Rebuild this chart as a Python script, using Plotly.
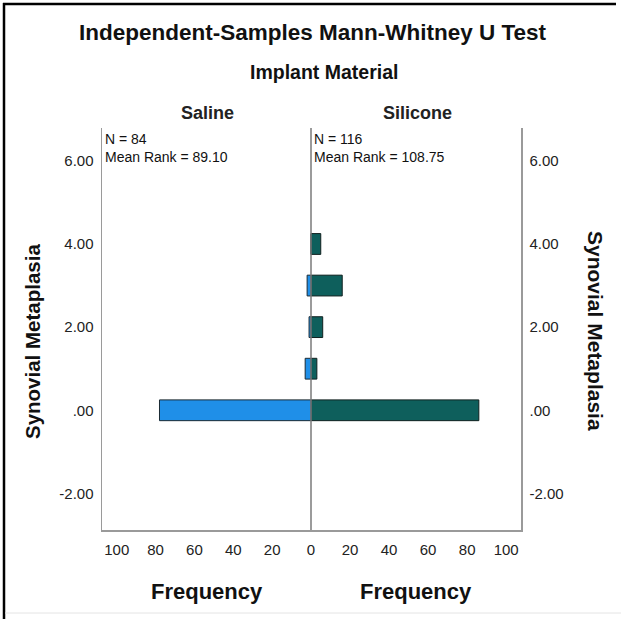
import plotly.graph_objects as go

# ---- data ----
levels = [0, 1, 2, 3, 4]
saline_freq = [78, 3, 1, 2, 0]
silicone_freq = [86, 3, 6, 16, 5]
group_names = ["Saline", "Silicone"]
group_n = [84, 116]
group_mean_rank = ["89.10", "108.75"]
y_tickvals = [-2, 0, 2, 4, 6]
y_ticktext = ["-2.00", ".00", "2.00", "4.00", "6.00"]
x_ticks_left = [0, 20, 40, 60, 80, 100]
x_ticks_right = [20, 40, 60, 80, 100]
title_lines = ["Independent-Samples Mann-Whitney U Test", "Implant Material"]
y_title = "Synovial Metaplasia"
x_title = "Frequency"

W, H = 621, 619
FONT = "Liberation Sans, Arial, sans-serif"


def fx(px):
    return px / W


def fy(py):
    return 1 - py / H


X_LEFT, X_MID, X_RIGHT = 102, 311, 521
Y_TOP, Y_BOT = 128, 530
AX_GRAY = "#9a9a9a"

fig = go.Figure()
fig.add_trace(go.Bar(
    x=saline_freq, y=levels, orientation="h", width=0.5,
    marker=dict(color="#1f8fe8", line=dict(color="#1b2a33", width=1)),
    xaxis="x", yaxis="y", name=group_names[0], showlegend=False,
))
fig.add_trace(go.Bar(
    x=silicone_freq, y=levels, orientation="h", width=0.5,
    marker=dict(color="#0e5f5c", line=dict(color="#10201f", width=1)),
    xaxis="x2", yaxis="y2", name=group_names[1], showlegend=False,
))

common_x = dict(
    showgrid=False, zeroline=False, showline=True, linecolor=AX_GRAY, linewidth=1.5,
    ticks="", ticklabelstandoff=5, tickfont=dict(family=FONT, size=15, color="#222"),
    fixedrange=True,
)
common_y = dict(
    showgrid=False, zeroline=False, showline=True, linecolor=AX_GRAY, linewidth=1.5,
    range=[-2.88, 6.79], tickvals=y_tickvals, ticktext=y_ticktext, ticks="",
    tickfont=dict(family=FONT, size=15, color="#222"), ticklabelstandoff=4,
    domain=[fy(Y_BOT), fy(Y_TOP)], automargin=False, fixedrange=True,
)

fig.update_layout(
    width=W, height=H,
    margin=dict(l=0, r=0, t=0, b=0),
    paper_bgcolor="white", plot_bgcolor="white",
    font=dict(family=FONT),
    xaxis=dict(common_x, domain=[fx(X_LEFT), fx(X_MID)], range=[107.6, 0],
               tickvals=x_ticks_left, anchor="y", automargin=False),
    xaxis2=dict(common_x, domain=[fx(X_MID), fx(X_RIGHT)], range=[0, 107.6],
                tickvals=x_ticks_right, anchor="y2", automargin=False),
    yaxis=dict(common_y, anchor="x", side="left"),
    yaxis2=dict(common_y, anchor="x2", side="right"),
    bargap=0,
)

shapes = [
    dict(type="line", xref="paper", yref="paper", x0=fx(X_MID), x1=fx(X_MID),
         y0=fy(Y_BOT), y1=fy(Y_TOP), line=dict(color="#7a7a7a", width=1.5), layer="above"),
    dict(type="line", xref="paper", yref="paper", x0=fx(4), x1=fx(4), y0=fy(3), y1=0,
         line=dict(color="black", width=2.5)),
    dict(type="line", xref="paper", yref="paper", x0=fx(3), x1=fx(616), y0=fy(4), y1=fy(4),
         line=dict(color="black", width=2.5)),
    dict(type="line", xref="paper", yref="paper", x0=fx(5), x1=1, y0=fy(613), y1=fy(613),
         line=dict(color="#e4e4e4", width=1)),
]
fig.update_layout(shapes=shapes)

ann = []
ann.append(dict(text="<b>%s</b>" % title_lines[0], x=fx(313), y=fy(32), xref="paper", yref="paper",
                showarrow=False, font=dict(family=FONT, size=22.5, color="#111"),
                xanchor="center", yanchor="middle"))
ann.append(dict(text="<b>%s</b>" % title_lines[1], x=fx(324), y=fy(72), xref="paper", yref="paper",
                showarrow=False, font=dict(family=FONT, size=19.5, color="#111"),
                xanchor="center", yanchor="middle"))
centers = [(X_LEFT + X_MID) / 2, (X_MID + X_RIGHT) / 2]
text_x = [X_LEFT + 2, X_MID + 2]
for i, g in enumerate(group_names):
    ann.append(dict(text="<b>%s</b>" % g, x=fx(centers[i] + 1), y=fy(113), xref="paper", yref="paper",
                    showarrow=False, font=dict(family=FONT, size=18, color="#222"),
                    xanchor="center", yanchor="middle"))
    ann.append(dict(text="N = %d<br>Mean Rank = %s" % (group_n[i], group_mean_rank[i]),
                    x=fx(text_x[i]), y=fy(148.5), xref="paper", yref="paper", showarrow=False,
                    font=dict(family=FONT, size=14, color="#111"), align="left",
                    xanchor="left", yanchor="middle", borderpad=0))
    ann.append(dict(text="<b>%s</b>" % x_title, x=fx(centers[i]), y=fy(591), xref="paper", yref="paper",
                    showarrow=False, font=dict(family=FONT, size=22, color="#111"),
                    xanchor="center", yanchor="middle"))
ann.append(dict(text="<b>%s</b>" % y_title, x=fx(32), y=fy(342), xref="paper", yref="paper",
                showarrow=False, textangle=-90, font=dict(family=FONT, size=20.5, color="#111"),
                xanchor="center", yanchor="middle"))
ann.append(dict(text="<b>%s</b>" % y_title, x=fx(596), y=fy(331), xref="paper", yref="paper",
                showarrow=False, textangle=90, font=dict(family=FONT, size=21, color="#111"),
                xanchor="center", yanchor="middle"))
fig.update_layout(annotations=ann)

fig.write_html("out.html", config={"displayModeBar": False, "staticPlot": True},
               post_script="document.body.style.margin='0';document.body.style.overflow='hidden';")
